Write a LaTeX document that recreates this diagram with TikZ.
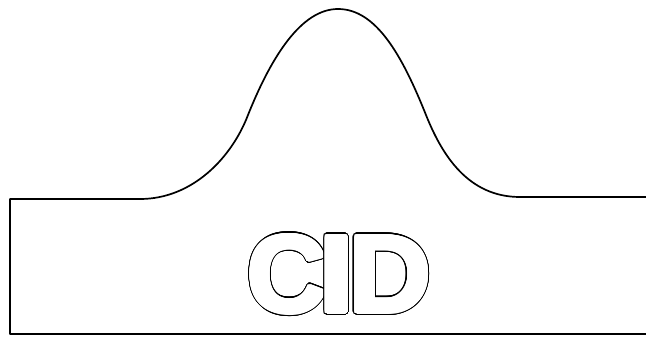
\documentclass[tikz,border=0pt]{standalone}
\usepackage{fontspec}
\usepackage{graphicx}
\setmainfont{Liberation Sans}
\tikzset{
  outline/.style={line width=1.7pt, line join=round},
  glyph/.style={inner sep=0pt, anchor=base, font=\fontsize{110}{110}\selectfont\bfseries},
}
\newcommand{\outlinedletter}[4]{%
  % #1 name, #2 x, #3 y (baseline), #4 letter
  \foreach \a in {0,8,...,352}{\node[glyph,text=black,shift={(\a:3.1)}] at (#2,#3) {#4};}
  \foreach \a in {0,15,...,345}{\node[glyph,text=white,shift={(\a:2)}] at (#2,#3) {#4};}
  \foreach \a in {0,30,...,330}{\node[glyph,text=white,shift={(\a:1)}] at (#2,#3) {#4};}
  \node[glyph,text=white] (#1) at (#2,#3) {#4};
}
\begin{document}
\begin{tikzpicture}[x=1pt,y=-1pt]
\useasboundingbox (0,0) rectangle (646,337);
\fill[white] (0,0) rectangle (646,337);
\coordinate (rEnd) at (646,197);
\coordinate (rFoot) at (520,197);
\coordinate (rInfl) at (426,115);
\coordinate (peak) at (338,9);
\coordinate (lInfl) at (248,115);
\coordinate (lFoot) at (140,199);
\coordinate (tl) at (10,199);
\coordinate (bl) at (10,334);
\coordinate (br) at (646,334);
\draw[outline] (rEnd) -- (rFoot)
  .. controls (468,197) and (442,155) .. (rInfl)
  .. controls (402,55) and (376,9) .. (peak)
  .. controls (302,9) and (272,55) .. (lInfl)
  .. controls (232,157) and (193,199) .. (lFoot)
  -- (tl) -- (bl) -- (br);
\outlinedletter{C}{287}{312}{C}
\outlinedletter{I}{336.5}{312}{\scalebox{1.2}[1]{I}}
\outlinedletter{D}{390}{312}{\scalebox{1.03}[1]{D}}
\end{tikzpicture}
\end{document}
